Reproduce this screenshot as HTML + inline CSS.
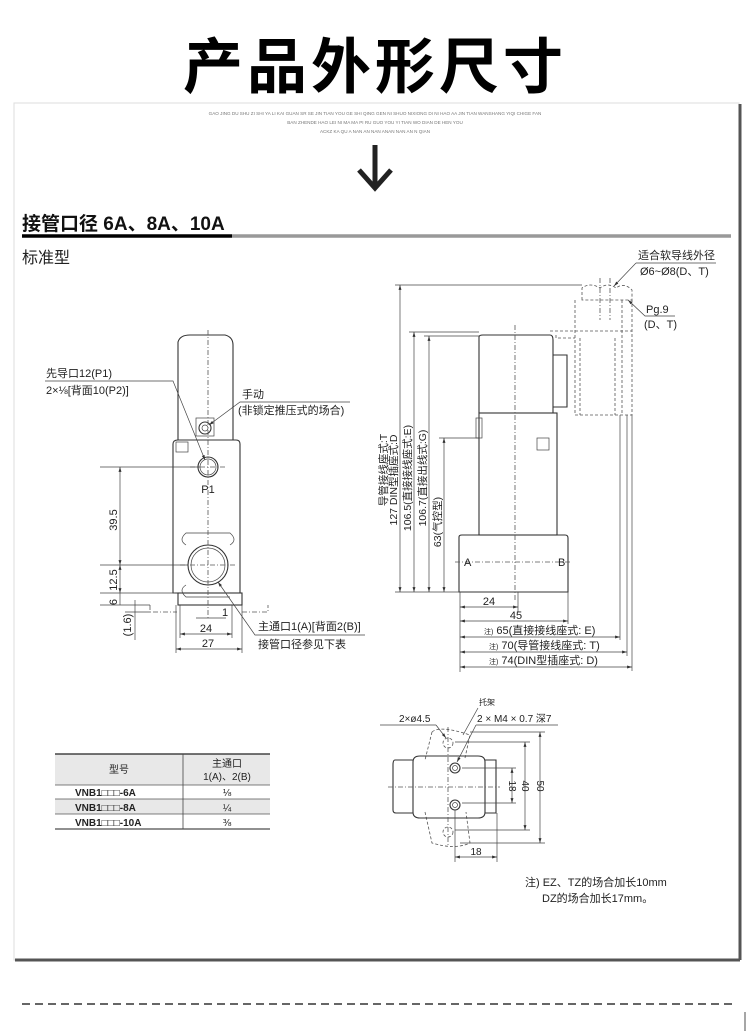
<!DOCTYPE html>
<html><head><meta charset="utf-8"><style>
body{margin:0;background:#fff;}
svg{display:block;}
text{font-family:"Liberation Sans","Noto Sans CJK SC",sans-serif;fill:#222;}
.s{stroke:#333;stroke-width:1.1;fill:none;}
.t{stroke:#444;stroke-width:0.7;fill:none;}
.d{stroke:#555;stroke-width:0.8;fill:none;stroke-dasharray:5 2 1 2;}
.dd{stroke:#555;stroke-width:0.8;fill:none;stroke-dasharray:3 2;}
</style></head><body>
<svg width="750" height="1031" viewBox="0 0 750 1031" xmlns="http://www.w3.org/2000/svg">
<defs>
<marker id="a" viewBox="0 0 10 10" refX="10" refY="5" markerWidth="7" markerHeight="7" orient="auto-start-reverse"><path d="M0,2 L10,5 L0,8z" fill="#333"/></marker>
</defs>
<text x="375" y="88" text-anchor="middle" font-size="60" font-weight="bold" style="fill:#000;letter-spacing:4px">产品外形尺寸</text>
<rect x="14" y="103" width="725" height="857" fill="none" stroke="#ddd" stroke-width="1"/>
<line x1="15" y1="960" x2="740" y2="960" stroke="#555" stroke-width="3"/>
<line x1="740" y1="104" x2="740" y2="960" stroke="#555" stroke-width="3"/>
<text x="375" y="115" text-anchor="middle" font-size="4.6" style="fill:#777">GAO JING DU SHU ZI SHI YA LI KAI GUAN SR SE JIN TIAN YOU GE SHI QING GEN NI SHUO NIXIONG DI NI HAO AA JIN TIAN WANSHANG YIQI CHIGE FAN</text>
<text x="375" y="124" text-anchor="middle" font-size="4.6" style="fill:#777">BAN ZHENDE HAO LEI NI MA MA PI RU GUO YOU YI TIAN WO DIAN DE HEN YOU</text>
<text x="375" y="133" text-anchor="middle" font-size="4.6" style="fill:#777">ACKZ KA QU A NAN AN NAN ANAN NAN AN N QIAN</text>
<line x1="375" y1="145" x2="375" y2="185" stroke="#222" stroke-width="5"/>
<polyline points="359,170 375,188 391,170" fill="none" stroke="#222" stroke-width="5"/>
<text x="22" y="230" font-size="19" font-weight="bold" style="fill:#111">接管口径  6A、8A、10A</text>
<line x1="22" y1="236" x2="232" y2="236" stroke="#000" stroke-width="3.5"/>
<line x1="232" y1="236" x2="731" y2="236" stroke="#999" stroke-width="3.5"/>
<text x="22" y="263" font-size="16" style="fill:#222">标准型</text>

<!-- LEFT DRAWING -->
<path class="s" d="M178,440 L178,342 Q180,335 190,335 L225,335 Q233,337 233,345 L233,440"/>
<path class="s" d="M173,593 L173,444 Q173,440 178,440 L236,440 Q240,440 240,444 L240,593 Z"/>
<rect class="s" x="178" y="593" width="64" height="12"/>
<path class="d" d="M150,605 L150,612 L177,612 M242,612 L268,612 L268,605"/>
<rect class="t" x="176" y="442" width="12" height="10"/>
<circle class="s" cx="208" cy="467" r="10"/><circle class="t" cx="208" cy="467" r="8"/>
<text x="208" y="493" font-size="11" text-anchor="middle">P1</text>
<circle class="s" cx="208" cy="565" r="20"/><circle class="t" cx="208" cy="565" r="17"/>
<path class="t" d="M186,545 Q178,540 186,533 L230,533 Q238,540 230,545 M186,585 Q178,590 186,597 L230,597"/>
<circle class="s" cx="205" cy="428" r="6"/><circle class="t" cx="205" cy="428" r="3"/>
<rect class="t" x="196" y="418" width="18" height="18"/>
<line class="d" x1="208" y1="330" x2="208" y2="620"/>
<line class="d" x1="190" y1="467" x2="226" y2="467"/>
<line class="d" x1="180" y1="565" x2="236" y2="565"/>
<line class="t" x1="100" y1="467" x2="200" y2="467"/>
<line class="t" x1="100" y1="565" x2="188" y2="565"/>
<line class="t" x1="100" y1="593" x2="175" y2="593"/>
<line class="t" x1="100" y1="605" x2="150" y2="605"/>
<line class="t" x1="120" y1="467" x2="120" y2="565" marker-start="url(#a)" marker-end="url(#a)"/>
<line class="t" x1="120" y1="565" x2="120" y2="593" marker-start="url(#a)" marker-end="url(#a)"/>
<line class="t" x1="120" y1="593" x2="120" y2="605"/>
<line class="t" x1="135" y1="600" x2="135" y2="640"/>
<line class="t" x1="125" y1="612" x2="150" y2="612"/>
<text transform="translate(117,520) rotate(-90)" font-size="11" text-anchor="middle">39.5</text>
<text transform="translate(117,580) rotate(-90)" font-size="11" text-anchor="middle">12.5</text>
<text transform="translate(117,602) rotate(-90)" font-size="11" text-anchor="middle">6</text>
<text transform="translate(131,625) rotate(-90)" font-size="11" text-anchor="middle">(1.6)</text>
<line class="t" x1="176" y1="605" x2="176" y2="653"/><line class="t" x1="242" y1="605" x2="242" y2="653"/>
<line class="t" x1="180" y1="605" x2="180" y2="638"/><line class="t" x1="232" y1="605" x2="232" y2="638"/>
<line class="t" x1="180" y1="634" x2="232" y2="634" marker-start="url(#a)" marker-end="url(#a)"/>
<line class="t" x1="176" y1="649" x2="242" y2="649" marker-start="url(#a)" marker-end="url(#a)"/>
<line class="t" x1="196" y1="618" x2="226" y2="618"/>
<text x="206" y="632" font-size="11" text-anchor="middle">24</text>
<text x="208" y="647" font-size="11" text-anchor="middle">27</text>
<text x="222" y="616" font-size="11">1</text>
<text x="46" y="377" font-size="11">先导口12(P1)</text>
<text x="46" y="394" font-size="11">2×⅛[背面10(P2)]</text>
<polyline class="t" points="45,381 173,381 205,460" marker-end="url(#a)"/>
<text x="242" y="398" font-size="11">手动</text>
<text x="238" y="414" font-size="11">(非锁定推压式的场合)</text>
<polyline class="t" points="350,402 240,402 209,425" marker-end="url(#a)"/>
<text x="258" y="630" font-size="11">主通口1(A)[背面2(B)]</text>
<text x="258" y="648" font-size="11">接管口径参见下表</text>
<polyline class="t" points="365,635 255,635 218,582" marker-end="url(#a)"/>

<!-- RIGHT DRAWING -->
<path class="s" d="M479,413 L479,337 Q479,335 483,335 L550,335 Q553,335 553,340 L553,413"/>
<path class="s" d="M553,355 L567,355 L567,407 L553,407"/>
<rect class="s" x="479" y="413" width="78" height="122"/>
<rect class="t" x="476" y="418" width="6" height="20"/>
<rect class="t" x="537" y="438" width="12" height="12"/>
<path class="s" d="M459,592 L459,537 Q459,535 462,535 L565,535 Q568,535 568,538 L568,592 Z"/>
<line class="d" x1="515" y1="325" x2="515" y2="600"/>
<line class="d" x1="455" y1="562" x2="572" y2="562"/>
<text x="464" y="566" font-size="11">A</text>
<text x="558" y="566" font-size="11">B</text>
<path class="dd" d="M556,335 L556,338 L575,338 M575,300 L575,415 L632,415 L632,300 M580,338 L580,415 M615,338 L615,415 M622,300 L622,415"/>
<path class="dd" d="M582,300 L582,288 Q590,282 600,288 Q608,282 616,288 Q624,282 632,290 L632,300 Z"/>
<line class="dd" x1="550" y1="331" x2="632" y2="331"/>
<line class="d" x1="600" y1="278" x2="600" y2="320"/>
<line class="d" x1="610" y1="278" x2="610" y2="320"/>
<text x="715" y="259" font-size="11" text-anchor="end">适合软导线外径</text>
<line class="t" x1="636" y1="263" x2="716" y2="263"/>
<text x="640" y="275" font-size="11">Ø6~Ø8(D、T)</text>
<line class="t" x1="636" y1="263" x2="614" y2="286" marker-end="url(#a)"/>
<text x="646" y="313" font-size="11">Pg.9</text>
<text x="644" y="328" font-size="11">(D、T)</text>
<polyline class="t" points="675,316 645,316 628,300" marker-end="url(#a)"/>
<line class="t" x1="395" y1="285" x2="582" y2="285"/>
<line class="t" x1="409" y1="332" x2="479" y2="332"/>
<line class="t" x1="424" y1="336" x2="479" y2="336"/>
<line class="t" x1="439" y1="438" x2="479" y2="438"/>
<line class="t" x1="395" y1="592" x2="459" y2="592"/>
<line class="t" x1="400" y1="285" x2="400" y2="592" marker-start="url(#a)" marker-end="url(#a)"/>
<line class="t" x1="414" y1="332" x2="414" y2="592" marker-start="url(#a)" marker-end="url(#a)"/>
<line class="t" x1="429" y1="336" x2="429" y2="592" marker-start="url(#a)" marker-end="url(#a)"/>
<line class="t" x1="444" y1="438" x2="444" y2="592" marker-start="url(#a)" marker-end="url(#a)"/>
<g font-size="10.5">
<text transform="translate(387,470) rotate(-90)" text-anchor="middle">导管接线座式:T</text>
<text transform="translate(397,480) rotate(-90)" text-anchor="middle">127 DIN型插座式:D</text>
<text transform="translate(411,478) rotate(-90)" text-anchor="middle">106.5(直接接线座式:E)</text>
<text transform="translate(426,478) rotate(-90)" text-anchor="middle">106.7(直接出线式:G)</text>
<text transform="translate(441,522) rotate(-90)" text-anchor="middle">63(气控型)</text>
</g>
<line class="t" x1="460" y1="592" x2="460" y2="672"/>
<line class="t" x1="518" y1="592" x2="518" y2="612"/>
<line class="t" x1="568" y1="592" x2="568" y2="624"/>
<line class="t" x1="620" y1="415" x2="620" y2="640"/>
<line class="t" x1="627" y1="415" x2="627" y2="656"/>
<line class="t" x1="632" y1="415" x2="632" y2="671"/>
<line class="t" x1="460" y1="607" x2="518" y2="607" marker-start="url(#a)" marker-end="url(#a)"/>
<line class="t" x1="460" y1="621" x2="568" y2="621" marker-start="url(#a)" marker-end="url(#a)"/>
<line class="t" x1="460" y1="637" x2="620" y2="637" marker-start="url(#a)" marker-end="url(#a)"/>
<line class="t" x1="460" y1="652" x2="627" y2="652" marker-start="url(#a)" marker-end="url(#a)"/>
<line class="t" x1="460" y1="667" x2="632" y2="667" marker-start="url(#a)" marker-end="url(#a)"/>
<g font-size="11">
<text x="489" y="605" text-anchor="middle">24</text>
<text x="516" y="619" text-anchor="middle">45</text>
<text x="484" y="634"><tspan font-size="7">注)</tspan> 65(直接接线座式: E)</text>
<text x="489" y="649"><tspan font-size="7">注)</tspan> 70(导管接线座式: T)</text>
<text x="489" y="664"><tspan font-size="7">注)</tspan> 74(DIN型插座式: D)</text>
</g>

<!-- BOTTOM VIEW -->
<path class="dd" d="M432,732 Q440,725 470,735 L465,758 M432,732 L425,760 M425,812 L432,843 Q455,850 470,843 L466,812"/>
<path class="s" d="M413,760 L395,760 Q393,760 393,765 L393,810 Q393,813 396,813 L413,813"/>
<path class="s" d="M485,760 L496,760 L496,813 L485,813"/>
<path class="s" d="M413,762 Q413,756 420,756 L478,756 Q485,756 485,762 L485,812 Q485,818 478,818 L420,818 Q413,818 413,812 Z"/>
<circle class="s" cx="455" cy="768" r="5"/><circle class="t" cx="455" cy="768" r="2.5"/>
<circle class="s" cx="455" cy="805" r="5"/><circle class="t" cx="455" cy="805" r="2.5"/>
<circle class="dd" cx="448" cy="743" r="5"/><circle class="dd" cx="448" cy="832" r="5"/>
<line class="d" x1="388" y1="787" x2="500" y2="787"/>
<line class="d" x1="448" y1="727" x2="448" y2="846"/>
<line class="t" x1="462" y1="768" x2="516" y2="768"/>
<line class="t" x1="462" y1="803" x2="516" y2="803"/>
<line class="t" x1="455" y1="742" x2="530" y2="742"/>
<line class="t" x1="455" y1="830" x2="530" y2="830"/>
<line class="t" x1="470" y1="732" x2="545" y2="732"/>
<line class="t" x1="460" y1="843" x2="545" y2="843"/>
<line class="t" x1="512" y1="768" x2="512" y2="803" marker-start="url(#a)" marker-end="url(#a)"/>
<line class="t" x1="525" y1="742" x2="525" y2="830" marker-start="url(#a)" marker-end="url(#a)"/>
<line class="t" x1="540" y1="732" x2="540" y2="843" marker-start="url(#a)" marker-end="url(#a)"/>
<line class="t" x1="455" y1="810" x2="455" y2="862"/>
<line class="t" x1="497" y1="813" x2="497" y2="862"/>
<line class="t" x1="455" y1="857" x2="497" y2="857" marker-start="url(#a)" marker-end="url(#a)"/>
<g font-size="10">
<text transform="translate(509,786) rotate(90)" text-anchor="middle">18</text>
<text transform="translate(522,786) rotate(90)" text-anchor="middle">40</text>
<text transform="translate(537,786) rotate(90)" text-anchor="middle">50</text>
<text x="476" y="855" text-anchor="middle">18</text>
<text x="479" y="705" font-size="8">托架</text>
<text x="399" y="722">2×ø4.5</text>
<text x="477" y="722">2 × M4 × 0.7  深7</text>
</g>
<line class="t" x1="380" y1="725" x2="436" y2="725"/>
<line class="t" x1="436" y1="725" x2="446" y2="738" marker-end="url(#a)"/>
<line class="t" x1="476" y1="725" x2="558" y2="725"/>
<line class="t" x1="476" y1="725" x2="457" y2="762" marker-end="url(#a)"/>
<line class="t" x1="478" y1="708" x2="463" y2="735"/>
<text x="525" y="886" font-size="11">注) EZ、TZ的场合加长10mm</text>
<text x="542" y="902" font-size="11">DZ的场合加长17mm。</text>

<!-- TABLE -->
<rect x="55" y="754" width="215" height="31" fill="#e8e8e8"/>
<rect x="55" y="799" width="215" height="15" fill="#e8e8e8"/>
<line x1="55" y1="754" x2="270" y2="754" stroke="#222" stroke-width="1.2"/>
<line x1="55" y1="785" x2="270" y2="785" stroke="#555" stroke-width="0.8"/>
<line x1="55" y1="799" x2="270" y2="799" stroke="#555" stroke-width="0.8"/>
<line x1="55" y1="814" x2="270" y2="814" stroke="#555" stroke-width="0.8"/>
<line x1="55" y1="829" x2="270" y2="829" stroke="#222" stroke-width="1"/>
<line x1="183" y1="754" x2="183" y2="829" stroke="#444" stroke-width="0.8"/>
<g font-size="10">
<text x="119" y="773" text-anchor="middle">型号</text>
<text x="227" y="767" text-anchor="middle">主通口</text>
<text x="227" y="780" text-anchor="middle">1(A)、2(B)</text>
<text x="75" y="796" font-weight="bold">VNB1□□□-6A</text>
<text x="75" y="811" font-weight="bold">VNB1□□□-8A</text>
<text x="75" y="826" font-weight="bold">VNB1□□□-10A</text>
<text x="227" y="796" text-anchor="middle">⅛</text>
<text x="227" y="811" text-anchor="middle">¼</text>
<text x="227" y="826" text-anchor="middle">⅜</text>
</g>
<line x1="22" y1="1004" x2="735" y2="1004" stroke="#333" stroke-width="1.5" stroke-dasharray="8 5"/>
<line x1="745" y1="1012" x2="745" y2="1031" stroke="#888" stroke-width="1.5"/>
</svg>
</body></html>
